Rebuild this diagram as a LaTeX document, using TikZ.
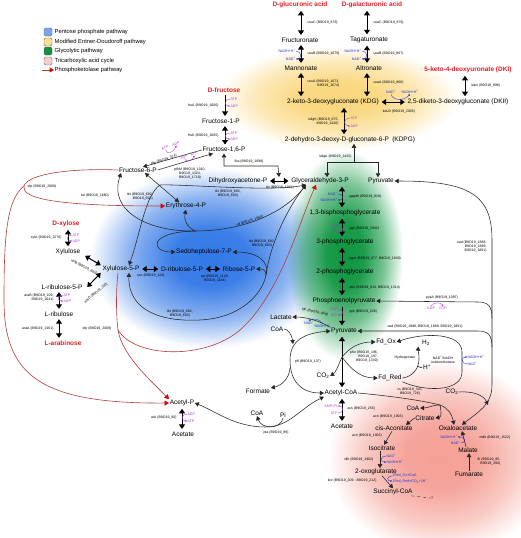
\documentclass[tikz,border=0pt]{standalone}
\usepackage{fontspec}
\setmainfont{Liberation Sans}
\usetikzlibrary{arrows.meta,fadings}
\definecolor{srcred}{RGB}{228,30,38}
\definecolor{cofpurple}{RGB}{170,60,210}
\definecolor{nadblue}{RGB}{35,45,215}
\definecolor{redline}{RGB}{180,60,60}
\definecolor{redhead}{RGB}{205,10,10}
\definecolor{bgblue}{RGB}{50,120,230}
\definecolor{bggreen}{RGB}{15,150,65}
\definecolor{bgyellow}{RGB}{250,215,125}
\definecolor{bgpink}{RGB}{245,160,150}
\definecolor{lgblue}{RGB}{120,165,235}
\definecolor{lgyellow}{RGB}{250,225,140}
\definecolor{lggreen}{RGB}{20,145,70}
\definecolor{lgpink}{RGB}{246,205,205}
\definecolor{pgftransparent}{gray}{0}
\pgfdeclareradialshading{glowshade}{\pgfpointorigin}{color(0bp)=(pgftransparent!0); color(8bp)=(pgftransparent!5); color(17bp)=(pgftransparent!45); color(25bp)=(pgftransparent!100); color(50bp)=(pgftransparent!100)}
\pgfdeclarefading{glowfade}{\pgfuseshading{glowshade}}
\begin{document}
\begin{tikzpicture}[x=1pt,y=-1pt,
  met/.style={font=\fontsize{6.5}{7}\selectfont, inner sep=0.6pt},
  src/.style={font=\fontsize{6.5}{7}\selectfont\bfseries, text=srcred, inner sep=0.6pt},
  gene/.style={font=\fontsize{3.5}{4}\selectfont, inner sep=0.3pt, align=center},
  cofP/.style={font=\fontsize{3.6}{4}\selectfont, text=cofpurple, inner sep=0.3pt},
  cofB/.style={font=\fontsize{3.6}{4}\selectfont, text=nadblue, inner sep=0.3pt},
  leg/.style={font=\fontsize{5.8}{6.5}\selectfont, inner sep=0.5pt, anchor=west},
  legbox/.style={draw=black!60, line width=0.4pt, rounded corners=1.5pt, minimum width=8pt, minimum height=8pt, inner sep=0pt},
  conn/.style={line width=0.55pt, draw=black!85},
  arr/.style={conn, -{Triangle[width=4.5pt,length=4pt]}},
  arrs/.style={conn, {Triangle[width=4.5pt,length=4pt]}-{Triangle[width=4.5pt,length=4pt]}},
  dbl/.style={line width=1pt, shorten <=2pt, shorten >=2pt, {Triangle[width=6pt,length=4.5pt]}-{Triangle[width=6pt,length=4.5pt]}},
  sgl/.style={line width=1pt, shorten <=2pt, shorten >=2pt, -{Triangle[width=6pt,length=4.5pt]}},
  redln/.style={draw=redline, line width=0.6pt, -{Triangle[width=5pt,length=4.5pt,color=redhead]}},
  redplain/.style={draw=redline, line width=0.6pt},
  cofarcP/.style={draw=cofpurple, line width=0.35pt, -{Triangle[width=1.8pt,length=1.6pt]}},
  cofarcB/.style={draw=nadblue, line width=0.35pt, -{Triangle[width=1.8pt,length=1.6pt]}}
]
\useasboundingbox (0,0) rectangle (520,538);
% backgrounds
\fill[bgyellow, path fading=glowfade] (338,98) ellipse [x radius=120, y radius=52];
\fill[bgblue, path fading=glowfade] (210,258) ellipse [x radius=120, y radius=90];
\fill[bggreen, path fading=glowfade] (345,255) ellipse [x radius=58, y radius=105];
\fill[bgpink, path fading=glowfade] (440,458) ellipse [x radius=112, y radius=97];

% legend
\node[legbox, fill=lgblue] (lb1) at (48,32) {};
\node[leg] (lt1) at (54,32) {Pentose phosphate pathway};
\node[legbox, fill=lgyellow] (lb2) at (48,42) {};
\node[leg] (lt2) at (54,42) {Modified Entner-Doudoroff pathway};
\node[legbox, fill=lggreen] (lb3) at (48,51) {};
\node[leg] (lt3) at (54,51) {Glycolytic pathway};
\node[legbox, fill=lgpink] (lb4) at (48,61) {};
\node[leg] (lt4) at (54,61) {Tricarboxylic acid cycle};
\coordinate (la) at (42,70);
\node[leg] (lt5) at (54,70) {Phosphoketolase pathway};
\draw[redln] (la) -- (lt5.west);

% ---------- top: uronic acids ----------
\node[src] (glcA) at (300,5) {D-glucuronic acid};
\node[src] (galA) at (372,5) {D-galacturonic acid};
\node[met] (fruu) at (300,40) {Fructuronate};
\node[met] (taga) at (369,40) {Tagaturonate};
\node[met] (mann) at (301,68) {Mannonate};
\node[met] (altr) at (369,68) {Altronate};
\node[met] (kdg) at (333,102) {2-keto-3-deoxygluconate (KDG)};
\node[met] (dkii) at (458,102) {2,5-diketo-3-deoxygluconate (DKII)};
\node[src] (dki) at (468,70) {5-keto-4-deoxyuronate (DKI)};
\node[met] (kdpg) at (350,140) {2-dehydro-3-deoxy-D-gluconate-6-P\enspace(KDPG)};

\draw[dbl] (301,0 |- glcA.south) -- (301,0 |- fruu.north);
\node[gene, anchor=west] (g1) at (307,23) {uxaC (B9O19\_876)};
\draw[dbl] (367,0 |- galA.south) -- (367,0 |- taga.north);
\node[gene, anchor=west] (g2) at (373,23) {uxaC (B9O19\_876)};

\draw[dbl] (301,0 |- fruu.south) -- (301,0 |- mann.north);
\node[gene, anchor=west] (g3) at (307,54) {uxuB (B9O19\_1675)};
\node[cofB, anchor=east] (c1a) at (296,51) {NADH+H\textsuperscript{+}};
\node[cofB, anchor=east] (c1b) at (296,59) {NAD\textsuperscript{+}};
\draw[cofarcB] (c1a.east) .. controls (302,51) and (302,59) .. (c1b.east);
\draw[dbl] (367,0 |- taga.south) -- (367,0 |- altr.north);
\node[gene, anchor=west] (g4) at (373,54) {uxaB (B9O19\_867)};
\node[cofB, anchor=east] (c2a) at (362,51) {NADH+H\textsuperscript{+}};
\node[cofB, anchor=east] (c2b) at (362,59) {NAD\textsuperscript{+}};
\draw[cofarcB] (c2a.east) .. controls (368,51) and (368,59) .. (c2b.east);

\draw[dbl] (301,0 |- mann.south) -- (301,0 |- kdg.north);
\node[gene, anchor=west, align=right] (g5) at (307,84) {uxuA (B9O19\_1673,\\B9O19\_1674)};
\draw[dbl] (367,0 |- altr.south) -- (367,0 |- kdg.north);
\node[gene, anchor=west] (g6) at (373,83) {uxaA (B9O19\_866)};
\draw[dbl] (465,0 |- dki.south) -- (465,0 |- dkii.north);
\node[gene, anchor=west] (g7) at (471,86) {kduI (B9O19\_898)};
\draw[dbl] (kdg.east) -- (dkii.west);
\node[cofB] (c3a) at (391,92) {NAD\textsuperscript{+}};
\node[cofB] (c3b) at (410,92) {NADH+H\textsuperscript{+}};
\draw[cofarcB] (c3a.south) .. controls (393,101) and (404,101) .. (c3b.south);
\node[gene] (g8) at (399,112) {kduD (B9O19\_2005)};

\draw[dbl] (344,0 |- kdg.south) -- (344,0 |- kdpg.north);
\node[gene, anchor=east, align=right] (g9) at (339,122) {kdgK (B9O19\_675,\\B9O19\_1426)};
\node[cofP, anchor=west] (c4a) at (350,118) {ATP};
\node[cofP, anchor=west] (c4b) at (350,126) {ADP};
\draw[cofarcP] (c4a.west) .. controls (343,118) and (343,126) .. (c4b.west);

% ---------- fructose ----------
\node[src] (dfru) at (224,90) {D-fructose};
\node[met] (f1p) at (221,121) {Fructose-1-P};
\node[met] (f16p) at (224,150) {Fructose-1,6-P};
\node[met] (f6p) at (138,170) {Fructose-6-P};
\draw[sgl] (225,0 |- dfru.south) -- (225,0 |- f1p.north);
\node[gene, anchor=east] (g10) at (219,106) {fruA (B9O19\_1606)};
\node[cofP, anchor=west] (c5a) at (230,99) {ATP};
\node[cofP, anchor=west] (c5b) at (230,106) {ADP};
\draw[cofarcP] (c5a.west) .. controls (224,99) and (224,106) .. (c5b.west);
\draw[dbl] (225,0 |- f1p.south) -- (225,0 |- f16p.north);
\node[gene, anchor=east] (g11) at (219,136) {fruK (B9O19\_1605)};
\node[cofP, anchor=west] (c6a) at (230,133) {ATP};
\node[cofP, anchor=west] (c6b) at (230,139) {ADP};
\draw[cofarcP] (c6a.west) .. controls (224,133) and (224,139) .. (c6b.west);

\draw[arr] (f16p.west) -- ([xshift=5pt]f6p.north);
\node[cofP, rotate=19] (c7a) at (165,148) {ATP};
\node[cofP, rotate=19] (c7b) at (176,144) {ADP};
\draw[cofarcP] (c7a.south) .. controls (167,155) and (173,153) .. (c7b.south);
\node[gene, rotate=19] (g12) at (164,160) {fbp (B9O19\_314)};
\draw[arr] (f6p.east) -- ([xshift=-11pt]f16p.south);
\node[cofP, rotate=16] (c8a) at (184,157) {ADP};
\node[cofP, rotate=16] (c8b) at (194,154) {ATP};
\draw[cofarcP] (c8a.south) .. controls (186,163) and (192,161) .. (c8b.south);
\node[gene] (g13) at (190,174) {pfkM (B9O19\_1010,\\B9O19\_1424,\\B9O19\_1718)};

\node[met] (dhap) at (238,181) {Dihydroxyacetone-P};
\node[met] (gap) at (320,181) {Glyceraldehyde-3-P};
\node[met] (pyrt) at (381,181) {Pyruvate};
\coordinate (fbj) at (278,166);
\coordinate (tpim) at (279,177);
\draw[arrs] (f16p.south) |- (fbj) -- (tpim);
\node[gene] (g14) at (249,162) {fba (B9O19\_1698)};
\draw[dbl] (dhap.east) -- (gap.west);
\node[gene] (g15) at (280,188) {tpi (B9O19\_1941)};

% KDPG split
\coordinate (kj) at (354,162);
\draw[arr] (kj) -- (354,0 |- kdpg.south);
\draw[arr] (kj) -| (327,0 |- gap.north);
\draw[arr] (kj) -| (378,0 |- pyrt.north);
\node[gene, anchor=east] (g16) at (352,157) {kdgA (B9O19\_1425)};

% ---------- glycolysis ----------
\node[met] (bpg) at (345,213) {1,3-bisphosphoglycerate};
\node[met] (pg3) at (345,242) {3-phosphoglycerate};
\node[met] (pg2) at (345,272) {2-phosphoglycerate};
\node[met] (pep) at (344,301) {Phosphoenolpyruvate};
\node[met] (pyr) at (344,331) {Pyruvate};
\draw[dbl] (342,0 |- gap.south) -- (342,0 |- bpg.north);
\node[gene, anchor=west] (g17) at (349,197) {gapdh (B9O19\_919)};
\node[cofB, anchor=east] (c9a) at (338,194) {NAD\textsuperscript{+}};
\node[cofB, anchor=east] (c9b) at (338,200) {NADH+H\textsuperscript{+}};
\draw[cofarcB] (c9a.east) .. controls (344,194) and (344,200) .. (c9b.east);
\draw[dbl] (342,0 |- bpg.south) -- (342,0 |- pg3.north);
\node[gene, anchor=west] (g18) at (349,229) {pgk (B9O19\_1942)};
\node[cofP, anchor=east] (c10a) at (338,226) {ADP};
\node[cofP, anchor=east] (c10b) at (338,232) {ATP};
\draw[cofarcP] (c10a.east) .. controls (344,226) and (344,232) .. (c10b.east);
\draw[dbl] (342,0 |- pg3.south) -- (342,0 |- pg2.north);
\node[gene, anchor=west] (g19) at (349,259) {pgm (B9O19\_677, B9O19\_1940)};
\draw[dbl] (342,0 |- pg2.south) -- (342,0 |- pep.north);
\node[gene, anchor=west] (g20) at (349,288) {eno (B9O19\_613, B9O19\_1314)};
\draw[sgl] (342,0 |- pep.south) -- (342,0 |- pyr.north);
\node[gene, anchor=west] (g21) at (349,312) {pyk (B9O19\_226)};
\node[cofP, anchor=east] (c11a) at (338,309) {ADP};
\node[cofP, anchor=east] (c11b) at (338,315) {ATP};
\draw[cofarcP] (c11a.east) .. controls (344,309) and (344,315) .. (c11b.east);

% right loop (oad, pykA)
\node[met] (oaa) at (458,428) {Oxaloacetate};
\draw[arrs] (pyrt.east) .. controls (470,181) and (492,195) .. (492,240) -- (492,385) .. controls (492,405) and (478,412) .. ([xshift=4pt]oaa.north);
\node[gene, anchor=east, align=right] (g22) at (487,247) {oad (B9O19\_1888,\\B9O19\_1889,\\B9O19\_1891)};
\coordinate (pkj) at (492,318);
\draw[arr] (pkj) .. controls (492,306) and (488,302) .. (478,302) -- (pep.east);
\node[gene] (g23) at (442,298) {pykA (B9O19\_1097)};
\node[cofP] (c12a) at (431,308) {GDP};
\node[cofP] (c12b) at (443,308) {GTP};
\draw[cofarcP] (c12a.north) .. controls (433,302) and (441,302) .. (c12b.north);
\coordinate (oadj) at (492,347);
\draw[arr] (oadj) .. controls (492,335) and (488,331) .. (478,331) -- (pyr.east);
\node[gene] (g24) at (425,327) {oad (B9O19\_1888, B9O19\_1889, B9O19\_1891)};

% lactate
\node[met] (lac) at (281,317) {Lactate};
\draw[arr] (pyr.north west) .. controls (318,320) and (305,317) .. (lac.east);
\node[gene, rotate=-12] (g25) at (315,312) {ldh (B9O19\_958)};
\node[cofB] (c13a) at (309,323) {NAD\textsuperscript{+}};
\node[cofB] (c13b) at (323,326) {NADH+H\textsuperscript{+}};
\draw[cofarcB] (c13b.north) .. controls (320,319) and (313,318) .. (c13a.north);

% pfl / pfor
\node[met] (acoa) at (341,393) {Acetyl-CoA};
\node[met] (coa1) at (277,329) {CoA};
\node[met] (form) at (258,391) {Formate};
\node[met] (co2a) at (323,376) {CO\textsubscript{2}};
\draw[arrs] (pyr.west) .. controls (305,333) and (290,340) .. (290,360) .. controls (290,380) and (300,393) .. (acoa.west);
\coordinate (pflj) at (290,368);
\draw[arr] (pflj) .. controls (289,380) and (280,386) .. (form.north east);
\coordinate (coaj) at (293,344);
\draw[arr] (coa1.east) .. controls (288,329) and (292,335) .. (coaj);
\node[gene] (g26) at (308,362) {pfl (B9O19\_137)};
\draw[dbl] (342,0 |- pyr.south) -- (342,0 |- acoa.north);
\node[met] (fdox) at (386,342) {Fd\_Ox};
\node[met] (fdred) at (390,378) {Fd\_Red};
\coordinate (pj) at (342,357);
\draw[arr] (pj) .. controls (350,347) and (360,342) .. (fdox.west);
\draw[arr] (pj) .. controls (350,368) and (360,378) .. (fdred.west);
\draw[arr] (pj) .. controls (338,366) and (336,372) .. (co2a.east);
\node[gene, align=right] (g27) at (364,357) {pfor (B9O19\_196,\\B9O19\_197,\\B9O19\_1330)};
\node[met] (h2) at (426,343) {H\textsubscript{2}};
\node[met] (hp) at (427,367) {H\textsuperscript{+}};
\node[gene] (hyd) at (405,358) {Hydrogenase};
\draw[arr] (fdred.east) .. controls (412,377) and (419,369) .. (419,359) .. controls (419,353) and (418,350) .. ([xshift=-3pt]h2.south west);
\coordinate (hj2) at (418,366);
\draw[conn] (hp.west) .. controls (421,368) .. (hj2);
\draw[arr] (fdred.south east) .. controls (425,392) and (462,392) .. (462,372) -- (462,352) .. controls (462,333) and (425,332) .. (fdox.east);
\node[gene] (g28) at (443,360) {NAD\textsuperscript{+}/NADH\\oxidoreductase};
\node[cofB, anchor=west] (c14a) at (467,357) {NADH+H\textsuperscript{+}};
\node[cofB, anchor=west] (c14b) at (467,364) {NAD\textsuperscript{+}};
\draw[cofarcB] (c14b.west) .. controls (461,364) and (461,357) .. (c14a.west);
\node[met] (co2b) at (452,392) {CO\textsubscript{2}};
\coordinate (co2e) at (488,405);
\draw[arr] (co2b.east) .. controls (475,391) and (484,396) .. (co2e);

% acetate from acetyl-CoA
\node[met] (acet2) at (342,426) {Acetate};
\draw[dbl] (342,0 |- acoa.south) -- (342,0 |- acet2.north);
\node[gene, anchor=west] (g29) at (347,409) {acs (B9O19\_256)};
\node[cofP, anchor=east] (c15a) at (338,406) {AMP+Pi};
\node[cofP, anchor=east] (c15b) at (338,413) {ATP};
\draw[cofarcP] (c15b.east) .. controls (344,413) and (344,406) .. (c15a.east);

% acetyl-P
\node[met] (acp) at (182,403) {Acetyl-P};
\node[met] (acet1) at (183,434) {Acetate};
\draw[dbl] (182,0 |- acp.south) -- (182,0 |- acet1.north);
\node[gene, anchor=east] (g30) at (177,418) {ack (B9O19\_90)};
\node[cofP, anchor=west] (c16a) at (187,414) {ADP};
\node[cofP, anchor=west] (c16b) at (187,421) {ATP};
\draw[cofarcP] (c16a.west) .. controls (181,414) and (181,421) .. (c16b.west);
\node[met] (coa3) at (257,413) {CoA};
\node[met] (pi) at (283,415) {Pi};
\draw[arrs] (acoa.south west) .. controls (300,408) and (290,427) .. (265,427) .. controls (235,427) and (215,411) .. (acp.east);
\draw[arr] (pi.south) .. controls (281,429) and (262,430) .. (coa3.south);
\node[gene] (g31) at (276,433) {pta (B9O19\_89)};

% ---------- TCA ----------
\node[met] (coa2) at (413,408) {CoA};
\node[met] (cit) at (425,418) {Citrate};
\node[met] (cis) at (394,428) {cis-Aconitate};
\node[met] (iso) at (382,448) {Isocitrate};
\node[met] (oxo) at (376,472) {2-oxoglutarate};
\node[met] (suc) at (393,492) {Succinyl-CoA};
\node[met] (mal) at (468,450) {Malate};
\node[met] (fum) at (469,474) {Fumarate};
\coordinate (csj) at (440,405);
\draw[conn] (acoa.east) .. controls (390,396) and (420,400) .. (csj);
\draw[arr] (csj) .. controls (448,408) and (452,414) .. ([xshift=-4pt]oaa.north);
\draw[arr] (csj) .. controls (441,410) and (442,417) .. (cit.east);
\draw[arr] (csj) .. controls (432,405) and (428,408) .. (coa2.east);
\node[gene] (g32) at (410,392) {cs (B9O19\_325,\\B9O19\_726)};
\draw[arr] (cit.west) -- ([xshift=12pt]cis.north);
\node[gene] (g33) at (388,417) {acn (B9O19\_1903)};
\draw[arr] ([xshift=-2pt]cis.south) -- ([xshift=2pt]iso.north);
\node[gene] (g34) at (367,436) {acn (B9O19\_1903)};
\draw[arr] (380,0 |- iso.south) -- (380,0 |- oxo.north);
\node[gene] (g35) at (359,460) {idh (B9O19\_1902)};
\node[cofB, anchor=west] (c17a) at (386,456) {NAD\textsuperscript{+}};
\node[cofB, anchor=west] (c17b) at (386,462) {NADH+H\textsuperscript{+}};
\draw[cofarcB] (c17a.west) .. controls (380,456) and (380,462) .. (c17b.west);
\draw[arr] ([xshift=6pt]oxo.south) -- (suc.north);
\node[gene, anchor=east] (g36) at (377,481) {kor (B9O19\_209 - B9O19\_212)};
\node[cofB, anchor=west] (c18a) at (392,476) {2Fed\_Ox+CoA};
\node[cofB, anchor=west] (c18b) at (392,481) {2Fed\_Red+CO\textsubscript{2}+2H\textsuperscript{+}};
\draw[cofarcB] (c18a.west) .. controls (386,476) and (387,481) .. (c18b.west);
\node[gene] (qm) at (432,498) {?};
\draw[conn, dashed, line width=0.4pt] ([xshift=-2pt]suc.south east) -- (qm.west);
\draw[arr] ([xshift=-2pt]mal.north) -- ([xshift=4pt]oaa.south);
\node[gene, anchor=west] (g37) at (479,438) {mdh (B9O19\_1522)};
\node[cofB, anchor=east] (c19a) at (458,437) {NADH+H\textsuperscript{+}};
\node[cofB, anchor=east] (c19b) at (461,443) {NAD\textsuperscript{+}};
\draw[cofarcB] (c19b.east) .. controls (466,443) and (466,437) .. (c19a.east);
\draw[arr] (469,0 |- fum.north) -- (469,0 |- mal.south);
\node[gene, anchor=west, align=right] (g38) at (477,462) {fh (B9O19\_95,\\B9O19\_290)};

% ---------- pentose phosphate ----------
\node[met] (ery) at (186,206) {Erythrose-4-P};
\node[met] (sed) at (204,252) {Sedoheptulose-7-P};
\node[met] (x5p) at (121,269) {Xylulose-5-P};
\node[met] (ru5p) at (182,269) {D-ribulose-5-P};
\node[met] (r5p) at (239,269) {Ribose-5-P};
\node[src] (dxyl) at (66,224) {D-xylose};
\node[met] (xylu) at (68,252) {Xylulose};
\node[met] (lru5p) at (62,287) {L-ribulose-5-P};
\node[met] (lru) at (59,314) {L-ribulose};
\node[src] (lara) at (63,343) {L-arabinose};

\draw[dbl] (x5p.east) -- (ru5p.west);
\node[gene] (g39) at (151,276) {rpe (B9O19\_124)};
\draw[dbl] (ru5p.east) -- (r5p.west);
\node[gene] (g40) at (215,279) {rpi (B9O19\_1126,\\B9O19\_1164)};
\draw[dbl] (68,0 |- dxyl.south) -- (68,0 |- xylu.north);
\node[gene, anchor=east] (g41) at (62,238) {xylA (B9O19\_2276)};
\node[cofP, anchor=west] (c20a) at (72,235) {ATP};
\node[cofP, anchor=west] (c20b) at (72,241) {ADP};
\draw[cofarcP] (c20a.west) .. controls (66,235) and (66,241) .. (c20b.west);
\draw[dbl, shorten <=0pt, shorten >=0pt] ([xshift=4pt]xylu.south east) -- ([xshift=-1pt]x5p.north west);
\node[gene, rotate=-28] (g42) at (84,267) {xylB (B9O19\_602)};
\draw[dbl, shorten <=0pt, shorten >=0pt] ([xshift=4pt]lru5p.east) -- ([xshift=-1pt]x5p.south west);
\node[gene, rotate=40] (g43) at (96,293) {araD (B9O19\_110)};
\draw[dbl] (59,0 |- lru5p.south) -- (59,0 |- lru.north);
\node[gene, anchor=east, align=right] (g44) at (54,298) {araB (B9O19\_109,\\B9O19\_2041)};
\node[cofP, anchor=west] (c21a) at (63,295) {ATP};
\node[cofP, anchor=west] (c21b) at (63,301) {ADP};
\draw[cofarcP] (c21a.west) .. controls (57,295) and (57,301) .. (c21b.west);
\draw[dbl] (59,0 |- lru.south) -- (59,0 |- lara.north);
\node[gene, anchor=east] (g45) at (54,329) {araA (B9O19\_2161)};

% tkt F6P <-> E4P
\draw[arrs] ([xshift=7pt]f6p.south) -- ([xshift=-7pt]ery.north);
\node[gene, align=right] (g46) at (140,197) {tkt (B9O19\_692,\\B9O19\_693)};
\node[gene] (g47) at (95,196) {tal (B9O19\_1680)};
\node[gene] (g48) at (42,187) {xfp (B9O19\_2009)};

% tal junction
\coordinate (tj) at (195,231);
\draw[arr] (tj) .. controls (150,232) and (108,212) .. ([xshift=-17pt]f6p.south);
\draw[arr] (tj) .. controls (185,226) and (184,218) .. (ery.south);
\draw[arr] (tj) .. controls (245,231) and (285,212) .. ([xshift=-14pt]gap.south);
\draw[arr] (tj) .. controls (148,232) and (150,252) .. (sed.west);
\node[gene, rotate=18] (g49) at (250,221) {tal (B9O19\_1680)};

% upper tkt (X5P -> GAP)
\draw[arrs] ([xshift=8pt]x5p.north) .. controls (140,235) and (145,195) .. (160,185) .. controls (185,184) and (270,192) .. ([xshift=-14pt]gap.south);
\node[gene] (g50) at (228,194) {tkt (B9O19\_692,\\B9O19\_693)};

% lower tkt
\draw[arrs] ([xshift=8pt]x5p.south) .. controls (128,310) and (160,322) .. (200,320) .. controls (240,318) and (262,295) .. (266,275) .. controls (271,240) and (290,205) .. ([xshift=-14pt]gap.south);
\node[gene] (g51) at (180,314) {tkt (B9O19\_692,\\B9O19\_693)};
\coordinate (tkj) at (266,275);
\draw[arr] (tkj) .. controls (270,262) and (258,252) .. (sed.east);
\draw[arr] (tkj) .. controls (266,270) and (263,269) .. (r5p.east);
\node[gene] (g52) at (262,244) {tkt (B9O19\_692,\\B9O19\_693)};

% red phosphoketolase
\coordinate (rj1) at (24,186);
\draw[redplain] (f6p.west) .. controls (70,168) and (28,174) .. (rj1);
\draw[redln] (rj1) .. controls (22,196) and (40,206) .. (ery.west);
\draw[redln] (rj1) .. controls (6,200) and (4,240) .. (4,300) .. controls (4,375) and (40,404) .. (acp.west);
\coordinate (rj2) at (118,330);
\draw[redplain] ([xshift=-3pt]x5p.south) .. controls (116,290) and (116,315) .. (rj2);
\draw[redln] (rj2) .. controls (122,355) and (150,380) .. (acp.north west);
\draw[redln] (rj2) .. controls (135,358) and (205,360) .. (240,330) .. controls (280,295) and (300,220) .. ([xshift=-4pt]gap.south);
\node[gene] (g53) at (97,329) {xfp (B9O19\_2009)};
\end{tikzpicture}
\end{document}
